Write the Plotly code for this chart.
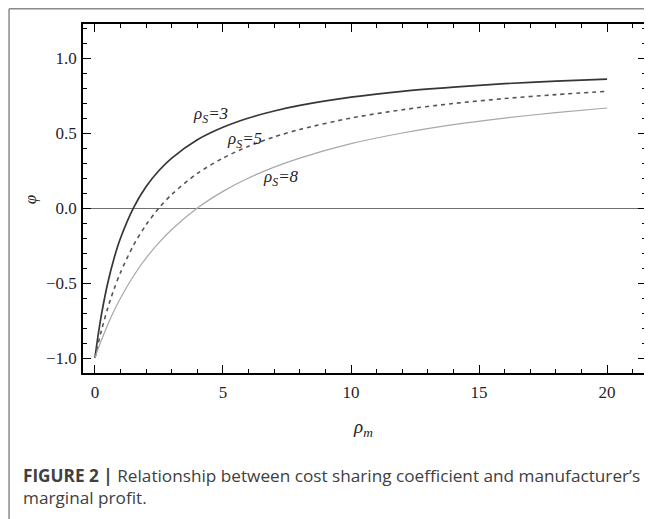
import plotly.graph_objects as go

# Data
rho_m = [0, 0.1, 0.25, 0.5, 0.75, 1, 1.5, 2, 2.5, 3, 4, 5, 6, 7, 8, 10, 12, 14, 16, 18, 20]
phi_s3 = [-1.0, -0.875, -0.714, -0.5, -0.333, -0.2, 0.0, 0.143, 0.25, 0.333, 0.455, 0.538,
          0.6, 0.647, 0.684, 0.739, 0.778, 0.806, 0.829, 0.846, 0.86]
phi_s5 = [-1.0, -0.923, -0.818, -0.667, -0.538, -0.429, -0.25, -0.111, 0.0, 0.091, 0.231, 0.333,
          0.412, 0.474, 0.524, 0.6, 0.655, 0.697, 0.73, 0.756, 0.778]
phi_s8 = [-1.0, -0.951, -0.882, -0.778, -0.684, -0.6, -0.455, -0.333, -0.231, -0.143, 0.0, 0.111,
          0.2, 0.273, 0.333, 0.429, 0.5, 0.556, 0.6, 0.636, 0.667]

x_ticks = [0, 5, 10, 15, 20]
y_ticks = [-1.0, -0.5, 0.0, 0.5, 1.0]
y_tick_text = ["\u22121.0", "\u22120.5", "0.0", "0.5", "1.0"]

labels = ["\u03c1<sub>S</sub>=3", "\u03c1<sub>S</sub>=5", "\u03c1<sub>S</sub>=8"]
label_x = [4.51, 5.84, 7.28]
label_y = [0.62, 0.453, 0.2]

fig = go.Figure()
fig.add_trace(go.Scatter(x=rho_m, y=phi_s3, mode="lines",
                         line=dict(color="#363636", width=1.7, shape="spline", smoothing=0.8)))
fig.add_trace(go.Scatter(x=rho_m, y=phi_s5, mode="lines",
                         line=dict(color="#555555", width=1.6, dash="4px,4px", shape="spline", smoothing=0.8)))
fig.add_trace(go.Scatter(x=rho_m, y=phi_s8, mode="lines",
                         line=dict(color="#a8a8a8", width=1.2, shape="spline", smoothing=0.8)))

serif = "Liberation Serif, Times New Roman, serif"
sans = "Open Sans, Liberation Sans, Arial, sans-serif"

for t, lx, ly in zip(labels, label_x, label_y):
    fig.add_annotation(x=lx, y=ly, xref="x", yref="y", text="<i>" + t + "</i>",
                       xanchor="center", yanchor="middle",
                       showarrow=False, font=dict(family=serif, size=17, color="#222"))

# axis titles (page px -> paper coords, plot area 83..648 x 24..373)
fig.add_annotation(x=(364 - 83) / 565, y=(373 - 428) / 349, xref="paper", yref="paper",
                   xanchor="center", yanchor="middle",
                   text="<i>\u03c1<sub>m</sub></i>", showarrow=False,
                   font=dict(family=serif, size=19, color="#222"))
fig.add_annotation(x=(30 - 83) / 565, y=(373 - 200) / 349, xref="paper", yref="paper",
                   xanchor="center", yanchor="middle",
                   text="<i>\u03c6</i>", showarrow=False, textangle=-90,
                   font=dict(family=serif, size=17, color="#222"))

# caption
fig.add_annotation(x=(21 - 83) / 565, y=(373 - 475) / 349, xref="paper", yref="paper",
                   xanchor="left", yanchor="middle", showarrow=False, align="left",
                   text="<b>FIGURE 2 |</b> Relationship between cost sharing coefficient and manufacturer\u2019s",
                   font=dict(family=sans, size=17.2, color="#404040"))
fig.add_annotation(x=(21 - 83) / 565, y=(373 - 497) / 349, xref="paper", yref="paper",
                   xanchor="left", yanchor="middle", showarrow=False, align="left",
                   text="marginal profit.",
                   font=dict(family=sans, size=17.2, color="#404040"))

# outer box lines
bx = (8.8 - 83) / 565
by_top = (373 - 8.8) / 349
by_bot = (373 - 519) / 349
bx_r = (652 - 83) / 565
fig.add_shape(type="line", xref="paper", yref="paper", x0=bx, x1=bx, y0=by_bot, y1=by_top,
              line=dict(color="#8a8a8a", width=1.5))
fig.add_shape(type="line", xref="paper", yref="paper", x0=bx, x1=bx_r, y0=by_top, y1=by_top,
              line=dict(color="#8a8a8a", width=1.5))

# page has an 8px body margin: figure spans page 8..652 x 8..519
fig.update_layout(
    width=644, height=511,
    margin=dict(l=75, r=4, t=16, b=146),
    paper_bgcolor="white", plot_bgcolor="white",
    showlegend=False,
)
fig.update_xaxes(range=[-0.467, 21.52], tickvals=x_ticks, ticks="inside", ticklen=8, tickwidth=1.3,
                 tickcolor="black", showline=True, linecolor="black", linewidth=1.5, mirror="ticks",
                 showgrid=False, zeroline=False,
                 minor=dict(dtick=1, tick0=0, ticks="inside", ticklen=4, tickwidth=1, tickcolor="black"),
                 tickfont=dict(family=serif, size=17, color="#1e1e2e"), ticklabelstandoff=3)
fig.update_yaxes(range=[-1.1, 1.227], tickvals=y_ticks, ticktext=y_tick_text, ticks="inside", ticklen=8,
                 tickwidth=1.3, tickcolor="black", showline=True, linecolor="black", linewidth=1.5,
                 mirror="ticks", showgrid=False, zeroline=True, zerolinecolor="#707070", zerolinewidth=1.2,
                 minor=dict(dtick=0.1, tick0=0, ticks="inside", ticklen=4, tickwidth=1, tickcolor="black"),
                 tickfont=dict(family=serif, size=17, color="#1e1e2e"), ticklabelstandoff=1)

fig.write_html("out.html")
